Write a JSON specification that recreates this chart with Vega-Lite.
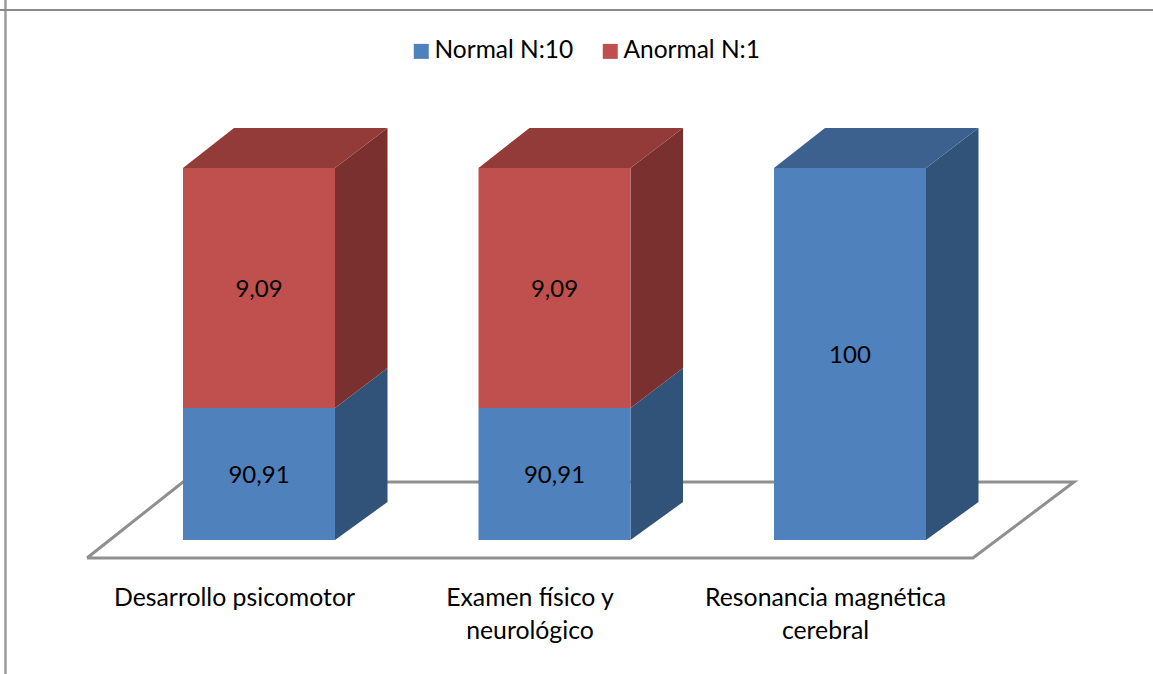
{
"$schema":"https://vega.github.io/schema/vega-lite/v6.json",
"width":1153,"height":674,"padding":0,"autosize":{"type":"none"},
"background":"white",
"view":{"stroke":null},
"config":{"font":"Lato"},
"datasets":{
"barras":[
{"categoria":"Desarrollo psicomotor","pos":0,"serie":"Normal N:10","orden":1,"valor":90.91},
{"categoria":"Desarrollo psicomotor","pos":0,"serie":"Anormal N:1","orden":2,"valor":9.09},
{"categoria":"Examen físico y neurológico","pos":1,"serie":"Normal N:10","orden":1,"valor":90.91},
{"categoria":"Examen físico y neurológico","pos":1,"serie":"Anormal N:1","orden":2,"valor":9.09},
{"categoria":"Resonancia magnética cerebral","pos":2,"serie":"Normal N:10","orden":1,"valor":100}
],
"etiquetas":[
{"pos":0,"texto":"90,91","altura":45.45},
{"pos":0,"texto":"9,09","altura":95.45},
{"pos":1,"texto":"90,91","altura":45.45},
{"pos":1,"texto":"9,09","altura":95.45},
{"pos":2,"texto":"100","altura":92.95}
],
"suelo":[
{"p":1,"x":-0.5820,"y":-12.41},
{"p":2,"x":-0.2572,"y":39.95},
{"p":3,"x":2.7580,"y":39.95},
{"p":4,"x":2.4160,"y":-12.41},
{"p":5,"x":-0.5820,"y":-12.41}
],
"caras":[
{"cara":"a_lado_azul","tono":"lado azul","x":0.2572,"y":90.91,"y2":0},
{"cara":"a_lado_azul","tono":"lado azul","x":0.4349,"y":92.425,"y2":26.17},
{"cara":"a_lado_rojo","tono":"lado rojo","x":0.2572,"y":100,"y2":90.91},
{"cara":"a_lado_rojo","tono":"lado rojo","x":0.4349,"y":101.515,"y2":92.425},
{"cara":"a_techo","tono":"techo rojo","x":-0.2572,"y":100,"y2":100},
{"cara":"a_techo","tono":"techo rojo","x":-0.0846,"y":101.515,"y2":100},
{"cara":"a_techo","tono":"techo rojo","x":0.2572,"y":101.515,"y2":100},
{"cara":"a_techo","tono":"techo rojo","x":0.4349,"y":101.515,"y2":101.515},
{"cara":"b_lado_azul","tono":"lado azul","x":1.2572,"y":90.91,"y2":0},
{"cara":"b_lado_azul","tono":"lado azul","x":1.4349,"y":92.425,"y2":26.17},
{"cara":"b_lado_rojo","tono":"lado rojo","x":1.2572,"y":100,"y2":90.91},
{"cara":"b_lado_rojo","tono":"lado rojo","x":1.4349,"y":101.515,"y2":92.425},
{"cara":"b_techo","tono":"techo rojo","x":0.7428,"y":100,"y2":100},
{"cara":"b_techo","tono":"techo rojo","x":0.9154,"y":101.515,"y2":100},
{"cara":"b_techo","tono":"techo rojo","x":1.2572,"y":101.515,"y2":100},
{"cara":"b_techo","tono":"techo rojo","x":1.4349,"y":101.515,"y2":101.515},
{"cara":"c_lado_azul","tono":"lado azul","x":2.2572,"y":100,"y2":0},
{"cara":"c_lado_azul","tono":"lado azul","x":2.4349,"y":101.515,"y2":26.17},
{"cara":"c_techo","tono":"techo azul","x":1.7428,"y":100,"y2":100},
{"cara":"c_techo","tono":"techo azul","x":1.9154,"y":101.515,"y2":100},
{"cara":"c_techo","tono":"techo azul","x":2.2572,"y":101.515,"y2":100},
{"cara":"c_techo","tono":"techo azul","x":2.4349,"y":101.515,"y2":101.515}
]
},
"layer":[
{"data":{"values":[{"borde":"marco"}]},
 "mark":{"type":"rule","color":"#9c9c9c","strokeWidth":2.5},
 "encoding":{"x":{"datum":-0.8579,"type":"quantitative","scale":{"domain":[-0.8765,3.0254],"range":[0,1153],"padding":0,"nice":false,"zero":false},"axis":{"values":[0,1,2],"title":null,"domain":false,"ticks":false,"grid":false,"offset":-98,"labelOffset":-25,"labelFontSize":24.8,"labelColor":"#000000","labelFont":"Lato","labelBaseline":"top","labelAlign":"center","labelPadding":9,"labelLineHeight":33,"labelFlush":false,"labelOverlap":false,"labelLimit":500,"labelExpr":"datum.value==0?'Desarrollo psicomotor':datum.value==1?['Examen físico y','neurológico']:['Resonancia magnética','cerebral']"}}}},
{"data":{"values":[{"borde":"marco"}]},
 "mark":{"type":"rule","color":"#8a8a8a","strokeWidth":2},
 "encoding":{"y":{"datum":105.98,"type":"quantitative","scale":{"domain":[-12.41,0,90.91,100,101.515],"range":[558,540,408,168,128],"nice":false,"zero":false},"axis":null}}},
{"data":{"name":"suelo"},
 "mark":{"type":"line","color":"#8f8f8f","strokeWidth":3,"strokeJoin":"miter"},
 "encoding":{
  "x":{"field":"x","type":"quantitative","scale":{"domain":[-0.8765,3.0254],"range":[0,1153],"padding":0,"nice":false,"zero":false}},
  "y":{"field":"y","type":"quantitative","scale":{"domain":[-12.41,0,90.91,100,101.515],"range":[558,540,408,168,128],"nice":false,"zero":false},"axis":null},
  "order":{"field":"p"}}},
{"data":{"name":"caras"},
 "mark":{"type":"area","interpolate":"linear","orient":"vertical"},
 "encoding":{
  "x":{"field":"x","type":"quantitative","scale":{"domain":[-0.8765,3.0254],"range":[0,1153],"padding":0,"nice":false,"zero":false}},
  "y":{"field":"y","type":"quantitative","stack":null,"scale":{"domain":[-12.41,0,90.91,100,101.515],"range":[558,540,408,168,128],"nice":false,"zero":false},"axis":null},
  "y2":{"field":"y2"},
  "detail":{"field":"cara"},
  "fill":{"field":"tono","type":"nominal","legend":null,"scale":{"domain":["lado azul","lado rojo","techo rojo","techo azul"],"range":["#325379","#7a302e","#933b38","#3c618f"]}}}},
{"data":{"name":"barras"},
 "mark":{"type":"bar","width":152,"orient":"vertical"},
 "encoding":{
  "x":{"field":"pos","type":"quantitative","scale":{"domain":[-0.8765,3.0254],"range":[0,1153],"padding":0,"nice":false,"zero":false}},
  "y":{"field":"valor","type":"quantitative","stack":"zero","scale":{"domain":[-12.41,0,90.91,100,101.515],"range":[558,540,408,168,128],"nice":false,"zero":false},"axis":null},
  "order":{"field":"orden"},
  "color":{"field":"serie","type":"nominal","scale":{"domain":["Normal N:10","Anormal N:1"],"range":["#4f81bd","#c0504d"]},
   "legend":{"title":null,"orient":"none","legendX":409,"legendY":39,"direction":"horizontal","padding":0,"symbolType":"square","symbolSize":225,"symbolStrokeWidth":0,"labelFontSize":24.5,"labelFont":"Lato","labelColor":"#000000","labelOffset":1,"columnPadding":24,"labelLimit":300}}}},
{"data":{"name":"etiquetas"},
 "mark":{"type":"text","fontSize":24,"font":"Lato","color":"#000000","dy":2},
 "encoding":{
  "x":{"field":"pos","type":"quantitative","scale":{"domain":[-0.8765,3.0254],"range":[0,1153],"padding":0,"nice":false,"zero":false}},
  "y":{"field":"altura","type":"quantitative","scale":{"domain":[-12.41,0,90.91,100,101.515],"range":[558,540,408,168,128],"nice":false,"zero":false},"axis":null},
  "text":{"field":"texto"}}}
],
"resolve":{"scale":{"color":"independent"}}
}
